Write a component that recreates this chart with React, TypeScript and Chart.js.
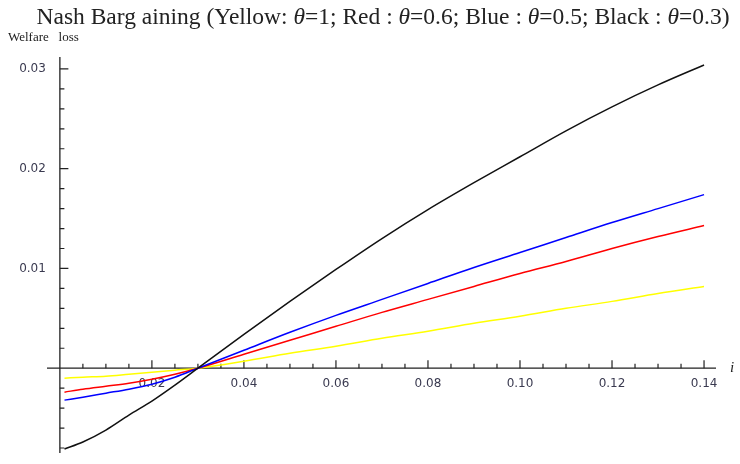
import React, { useEffect, useRef } from "react";
import { Chart, registerables } from "chart.js";

Chart.register(...registerables);

const iValues = [0.001, 0.005, 0.01, 0.015, 0.02, 0.025, 0.03, 0.04, 0.05, 0.06, 0.07, 0.08, 0.09, 0.1, 0.11, 0.12, 0.13, 0.14];
const yellowLoss = [-0.001, -0.0009, -0.0008, -0.0006, -0.0004, -0.0002, 0, 0.0007, 0.0015, 0.0022, 0.003, 0.0037, 0.0045, 0.0052, 0.006, 0.0067, 0.0075, 0.0082];
const redLoss = [-0.0024, -0.0021, -0.0018, -0.0015, -0.0011, -0.0006, 0, 0.0014, 0.0028, 0.0042, 0.0056, 0.0069, 0.0082, 0.0095, 0.0107, 0.012, 0.0132, 0.0143];
const blueLoss = [-0.0032, -0.0029, -0.0025, -0.0021, -0.0016, -0.0009, 0, 0.0018, 0.0036, 0.0053, 0.0069, 0.0085, 0.0101, 0.0116, 0.0131, 0.0146, 0.016, 0.0174];
const blackLoss = [-0.0081, -0.0074, -0.0062, -0.0047, -0.0033, -0.0017, 0, 0.0034, 0.0067, 0.0099, 0.013, 0.0159, 0.0186, 0.0212, 0.0238, 0.0262, 0.0284, 0.0304];

const xMajorTicks = [0.02, 0.04, 0.06, 0.08, 0.1, 0.12, 0.14];
const xTickLabels = ["0.02", "0.04", "0.06", "0.08", "0.10", "0.12", "0.14"];
const xMinorTicks = [0.005, 0.01, 0.015, 0.025, 0.03, 0.035, 0.045, 0.05, 0.055, 0.065, 0.07, 0.075, 0.085, 0.09, 0.095, 0.105, 0.11, 0.115, 0.125, 0.13, 0.135];
const yMajorTicks = [0.01, 0.02, 0.03];
const yTickLabels = ["0.01", "0.02", "0.03"];
const yMinorTicks = [-0.008, -0.006, -0.004, -0.002, 0.002, 0.004, 0.006, 0.008, 0.012, 0.014, 0.016, 0.018, 0.022, 0.024, 0.026, 0.028];

const titleParts: [string, boolean][] = [
  ["Nash Barg aining (Yellow: ", false],
  ["θ", true],
  ["=1; Red : ", false],
  ["θ", true],
  ["=0.6; Blue : ", false],
  ["θ", true],
  ["=0.5; Black : ", false],
  ["θ", true],
  ["=0.3)", false],
];
const yAxisTitle = "Welfare   loss";
const xAxisTitle = "i";

const axisPlugin = {
  id: "mmaAxes",
  beforeDatasetsDraw(chart: any) {
    const ctx = chart.ctx;
    const xs = chart.scales.x;
    const ys = chart.scales.y;
    const x0 = xs.getPixelForValue(0);
    const y0 = ys.getPixelForValue(0);
    ctx.save();
    ctx.strokeStyle = "#222";
    ctx.lineWidth = 1.3;
    ctx.beginPath();
    ctx.moveTo(xs.left, y0);
    ctx.lineTo(xs.right, y0);
    ctx.moveTo(x0, ys.top);
    ctx.lineTo(x0, ys.bottom);
    ctx.stroke();
    ctx.lineWidth = 1.2;
    ctx.beginPath();
    xMajorTicks.forEach((v) => {
      const px = xs.getPixelForValue(v);
      ctx.moveTo(px, y0);
      ctx.lineTo(px, y0 - 8);
    });
    xMinorTicks.forEach((v) => {
      const px = xs.getPixelForValue(v);
      ctx.moveTo(px, y0);
      ctx.lineTo(px, y0 - 4.5);
    });
    yMajorTicks.forEach((v) => {
      const py = ys.getPixelForValue(v);
      ctx.moveTo(x0, py);
      ctx.lineTo(x0 + 8.5, py);
    });
    yMinorTicks.forEach((v) => {
      const py = ys.getPixelForValue(v);
      ctx.moveTo(x0, py);
      ctx.lineTo(x0 + 4.5, py);
    });
    ctx.stroke();

    ctx.fillStyle = "#3a3a50";
    ctx.font = "12px 'DejaVu Sans'";
    ctx.textAlign = "center";
    ctx.textBaseline = "middle";
    xMajorTicks.forEach((v, k) => {
      ctx.fillText(xTickLabels[k], xs.getPixelForValue(v), y0 + 16);
    });
    ctx.textAlign = "right";
    yMajorTicks.forEach((v, k) => {
      ctx.fillText(yTickLabels[k], x0 - 14, ys.getPixelForValue(v));
    });

    ctx.fillStyle = "#222";
    ctx.font = "italic 15px 'Liberation Serif'";
    ctx.textAlign = "left";
    ctx.fillText(xAxisTitle, xs.right + 14, y0);

    ctx.font = "13px 'Liberation Serif'";
    ctx.textBaseline = "alphabetic";
    ctx.fillText(yAxisTitle, 8, 41);

    const tf = (it: boolean) => (it ? "italic " : "") + "23.5px 'Liberation Serif'";
    let total = 0;
    titleParts.forEach(([t, it]) => {
      ctx.font = tf(it);
      total += ctx.measureText(t).width;
    });
    let cx = 383 - total / 2;
    titleParts.forEach(([t, it]) => {
      ctx.font = tf(it);
      ctx.fillText(t, cx, 24);
      cx += ctx.measureText(t).width;
    });
    ctx.restore();
  },
};

function pts(vals: number[]) {
  return vals.map((v, k) => ({ x: iValues[k], y: v }));
}

export default function App() {
  const ref = useRef<HTMLCanvasElement>(null);
  useEffect(() => {
    document.body.style.margin = "0";
    const mk = (label: string, vals: number[], color: string) => ({
      label,
      data: pts(vals),
      borderColor: color,
      backgroundColor: color,
      borderWidth: 1.5,
      pointRadius: 0,
      fill: false,
      cubicInterpolationMode: "monotone" as const,
    });
    const chart = new Chart(ref.current!, {
      type: "line",
      data: {
        datasets: [
          mk("Black θ=0.3", blackLoss, "#111111"),
          mk("Blue θ=0.5", blueLoss, "#0000ff"),
          mk("Red θ=0.6", redLoss, "#ff0000"),
          mk("Yellow θ=1", yellowLoss, "#ffff00"),
        ],
      },
      options: {
        animation: false,
        responsive: false,
        devicePixelRatio: 1,
        layout: { padding: { left: 47, right: 24, top: 57, bottom: 11 } },
        plugins: { legend: { display: false }, tooltip: { enabled: false }, title: { display: false } },
        scales: {
          x: { type: "linear", min: -0.0028, max: 0.1426, display: false },
          y: { type: "linear", min: -0.0085, max: 0.0312, display: false },
        },
      },
      plugins: [axisPlugin],
    });
    return () => chart.destroy();
  }, []);
  return (
    <div style={{ width: 740, height: 464, background: "#fff" }}>
      <canvas ref={ref} width={740} height={464} />
    </div>
  );
}
